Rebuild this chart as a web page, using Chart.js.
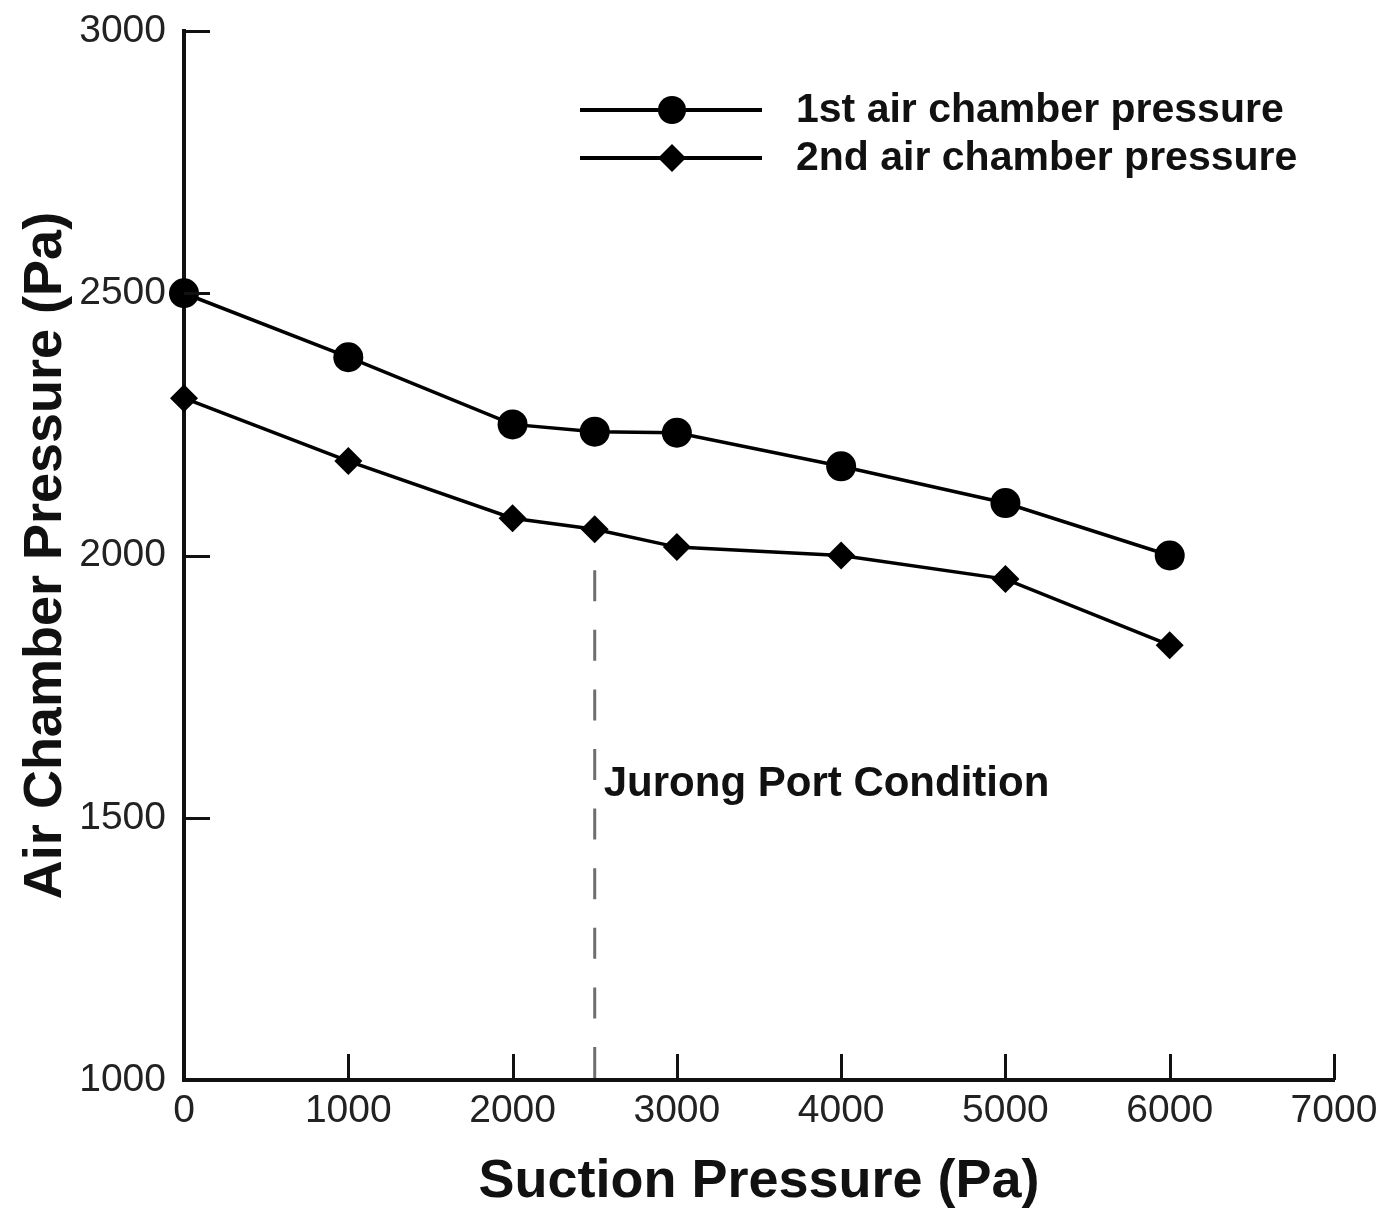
<!DOCTYPE html>
<html>
<head>
<meta charset="utf-8">
<script src="https://cdn.jsdelivr.net/npm/chart.js@4/dist/chart.umd.min.js"></script>
<style>
  html, body { margin: 0; padding: 0; background: #fff; }
  #wrap { width: 1385px; height: 1217px; position: relative; }
</style>
</head>
<body>
<div id="wrap"><canvas id="c" width="1385" height="1217"></canvas></div>
<script>
// ---- data ----
const suctionPressure = [0, 1000, 2000, 2500, 3000, 4000, 5000, 6000];
const firstChamber = [2500, 2378, 2250, 2236, 2234, 2170, 2100, 2000];
const secondChamber = [2300, 2180, 2071, 2050, 2016, 2000, 1955, 1829];
const seriesNames = ['1st air chamber pressure', '2nd air chamber pressure'];
const xTicks = [0, 1000, 2000, 3000, 4000, 5000, 6000, 7000];
const yTicks = [1000, 1500, 2000, 2500, 3000];
const xTitle = 'Suction Pressure (Pa)';
const yTitle = 'Air Chamber Pressure (Pa)';
const conditionX = 2500;
const conditionTop = 1972;
const conditionLabel = 'Jurong Port Condition';
const conditionLabelY = 1564;

const FONT = '"Liberation Sans", Arial, Helvetica, sans-serif';

const toPts = (ys) => suctionPressure.map((x, i) => ({x: x, y: ys[i]}));

const extras = {
  id: 'extras',
  afterDatasetsDraw(chart) {
    const {ctx, chartArea, scales: {x, y}} = chart;
    ctx.save();
    // inward ticks
    ctx.strokeStyle = '#111';
    ctx.lineWidth = 3;
    const tl = 26;
    xTicks.forEach(v => {
      const px = Math.round(x.getPixelForValue(v)) + 0.5;
      ctx.beginPath();
      ctx.moveTo(px, chartArea.bottom);
      ctx.lineTo(px, chartArea.bottom - tl);
      ctx.stroke();
    });
    yTicks.forEach(v => {
      const py = Math.round(y.getPixelForValue(v)) + 0.5;
      ctx.beginPath();
      ctx.moveTo(chartArea.left, py);
      ctx.lineTo(chartArea.left + tl, py);
      ctx.stroke();
    });
    // dashed condition line
    const cx = x.getPixelForValue(conditionX);
    ctx.strokeStyle = '#6e6e6e';
    ctx.lineWidth = 3;
    ctx.setLineDash([31, 28.6]);
    ctx.beginPath();
    ctx.moveTo(cx, y.getPixelForValue(conditionTop));
    ctx.lineTo(cx, chartArea.bottom);
    ctx.stroke();
    ctx.setLineDash([]);
    // condition label
    ctx.fillStyle = '#111';
    ctx.font = 'bold 42px ' + FONT;
    ctx.textAlign = 'left';
    ctx.textBaseline = 'middle';
    ctx.fillText(conditionLabel, cx + 9, y.getPixelForValue(conditionLabelY));
    // legend
    const rows = [{y: 110, style: 'circle'}, {y: 158, style: 'rectRot'}];
    rows.forEach((r, i) => {
      ctx.strokeStyle = '#000';
      ctx.lineWidth = 4;
      ctx.beginPath();
      ctx.moveTo(580, r.y);
      ctx.lineTo(762, r.y);
      ctx.stroke();
      ctx.fillStyle = '#000';
      ctx.beginPath();
      if (r.style === 'circle') {
        ctx.arc(672, r.y, 14, 0, Math.PI * 2);
      } else {
        const s = 14;
        ctx.moveTo(672, r.y - s);
        ctx.lineTo(672 + s, r.y);
        ctx.lineTo(672, r.y + s);
        ctx.lineTo(672 - s, r.y);
        ctx.closePath();
      }
      ctx.fill();
      ctx.fillStyle = '#111';
      ctx.font = 'bold 41px ' + FONT;
      ctx.textAlign = 'left';
      ctx.textBaseline = 'middle';
      ctx.fillText(seriesNames[i], 796, r.y + 1);
    });
    ctx.restore();
  }
};

new Chart(document.getElementById('c'), {
  type: 'line',
  data: {
    datasets: [
      {
        label: seriesNames[0],
        data: toPts(firstChamber),
        borderColor: '#000',
        backgroundColor: '#000',
        borderWidth: 3.5,
        pointStyle: 'circle',
        pointRadius: 15,
        pointHoverRadius: 15,
        pointBackgroundColor: '#000',
        pointBorderWidth: 0,
        tension: 0,
        clip: false
      },
      {
        label: seriesNames[1],
        data: toPts(secondChamber),
        borderColor: '#000',
        backgroundColor: '#000',
        borderWidth: 3.5,
        pointStyle: 'rectRot',
        pointRadius: 14,
        pointHoverRadius: 14,
        pointBackgroundColor: '#000',
        pointBorderWidth: 0,
        tension: 0,
        clip: false
      }
    ]
  },
  options: {
    responsive: false,
    animation: false,
    events: [],
    layout: { padding: { left: 0, top: 31, right: 51, bottom: 0 } },
    plugins: { legend: { display: false }, tooltip: { enabled: false }, title: { display: false } },
    scales: {
      x: {
        type: 'linear',
        position: 'bottom',
        min: 0, max: 7000,
        afterBuildTicks: (s) => { s.ticks = xTicks.map(v => ({value: v})); },
        afterFit: (s) => { s.height = 137; s.paddingLeft = 0; s.paddingRight = 0; },
        grid: { display: false, drawTicks: false },
        border: { display: true, color: '#111', width: 4 },
        ticks: { color: '#222', padding: 8, maxRotation: 0, autoSkip: false,
                 callback: (v) => String(v),
                 font: { family: FONT, size: 39 } },
        title: { display: true, text: xTitle, color: '#111',
                 font: { family: FONT, size: 54, weight: 'bold' },
                 padding: { top: 0, bottom: 2 } }
      },
      y: {
        type: 'linear',
        position: 'left',
        min: 1000, max: 3000,
        afterBuildTicks: (s) => { s.ticks = yTicks.map(v => ({value: v})); },
        afterFit: (s) => { s.width = 184; s.paddingTop = 0; s.paddingBottom = 0; },
        grid: { display: false, drawTicks: false },
        border: { display: true, color: '#111', width: 4 },
        ticks: { color: '#222', padding: 18, autoSkip: false,
                 callback: (v) => String(v),
                 font: { family: FONT, size: 39 } },
        title: { display: true, text: yTitle, color: '#111',
                 font: { family: FONT, size: 54, weight: 'bold' },
                 padding: { top: 14, bottom: 0 } }
      }
    }
  },
  plugins: [extras]
});
</script>
</body>
</html>
